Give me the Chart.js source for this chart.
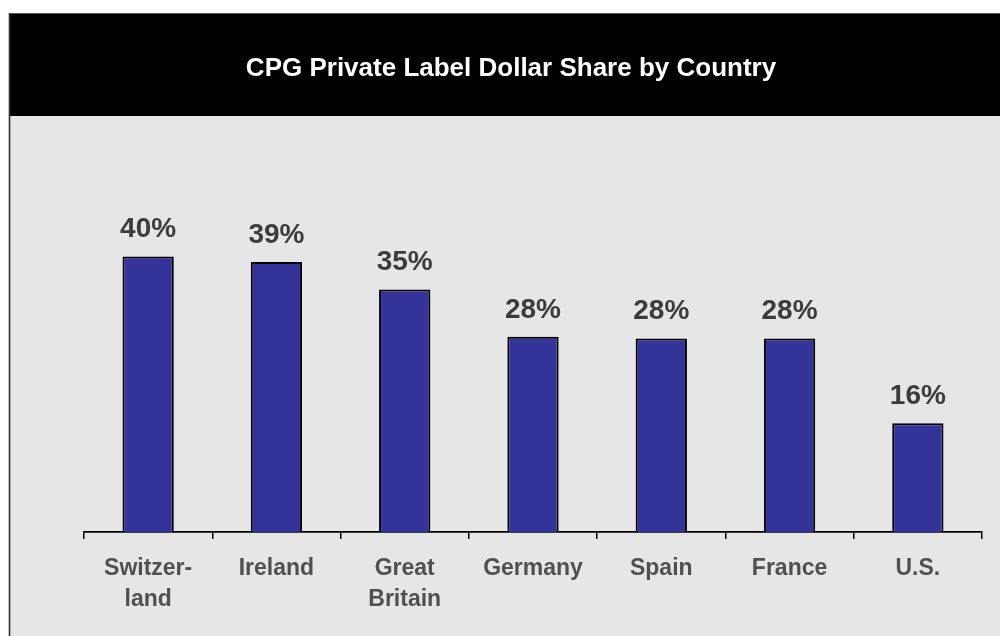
<!DOCTYPE html>
<html>
<head>
<meta charset="utf-8">
<script src="https://cdn.jsdelivr.net/npm/chart.js@4.4.1/dist/chart.umd.min.js"></script>
<style>
  html, body { margin: 0; padding: 0; background: #fff; }
  #wrap { width: 1000px; height: 636px; position: relative; }
</style>
</head>
<body>
<div id="wrap"><canvas id="barchart"></canvas></div>
<script>
const countries = [['Switzer-', 'land'], 'Ireland', ['Great', 'Britain'], 'Germany', 'Spain', 'France', 'U.S.'];
const shares = [40, 39.2, 35.2, 28.35, 28.1, 28.1, 15.8];
const titleText = 'CPG Private Label Dollar Share by Country';

const FONT = "'Liberation Sans', Arial, sans-serif";

// grey panel, black title band and frame lines
const panel = {
  id: 'panel',
  beforeDraw(chart) {
    const c = chart.ctx;
    c.save();
    c.fillStyle = '#ffffff';
    c.fillRect(0, 0, chart.width, chart.height);
    c.fillStyle = '#e6e6e6';
    c.fillRect(9, 13, chart.width - 9, chart.height - 13);
    c.fillStyle = '#000000';
    c.fillRect(9, 13, chart.width - 9, 103);
    c.strokeStyle = '#555';
    c.lineWidth = 1;
    c.beginPath();
    c.moveTo(9, 13.5); c.lineTo(chart.width, 13.5);
    c.stroke();
    c.strokeStyle = '#333';
    c.lineWidth = 1.6;
    c.beginPath();
    c.moveTo(9.5, 13); c.lineTo(9.5, chart.height);
    c.stroke();
    c.restore();
  }
};

// percentage above each bar
const valueLabels = {
  id: 'valueLabels',
  afterDatasetsDraw(chart) {
    const c = chart.ctx;
    const meta = chart.getDatasetMeta(0);
    c.save();
    c.font = 'bold 28px ' + FONT;
    c.fillStyle = '#3c3c3c';
    c.textAlign = 'center';
    c.textBaseline = 'alphabetic';
    meta.data.forEach((bar, i) => {
      c.fillText(Math.round(shares[i]) + '%', bar.x, bar.y - 19);
    });
    c.restore();
  }
};

const ctx = document.getElementById('barchart');

const barchart = new Chart(ctx, {
  type: 'bar',
  data: {
    labels: countries,
    datasets: [{
      data: shares,
      backgroundColor: '#333399',
      borderColor: '#000000',
      borderWidth: 2,
      barPercentage: 0.8,
      categoryPercentage: 0.5
    }]
  },
  options: {
    responsive: true,
    maintainAspectRatio: false,
    animation: false,
    layout: { padding: { left: 40, right: 18, top: 0, bottom: 0 } },
    plugins: {
      legend: { display: false },
      tooltip: { enabled: false },
      title: {
        display: true,
        text: titleText,
        color: '#ffffff',
        font: { family: FONT, size: 26, weight: 'bold', lineHeight: 1.2 },
        padding: { top: 53, bottom: 34.4 }
      }
    },
    scales: {
      x: {
        grid: {
          offset: true,
          drawOnChartArea: false,
          color: '#000',
          tickLength: 7,
          lineWidth: 1.5
        },
        border: { color: '#000', width: 1.8 },
        ticks: {
          color: '#505050',
          padding: 14,
          maxRotation: 0,
          autoSkip: false,
          font: { family: FONT, size: 23, weight: 'bold', lineHeight: 1.35 }
        },
        afterFit(scale) { scale.height = 104; }
      },
      y: {
        min: 0,
        max: 60,
        ticks: { display: false },
        grid: { display: false },
        border: { display: false },
        afterFit(scale) { scale.width = 44; }
      }
    }
  },
  plugins: [panel, valueLabels]
});
</script>
</body>
</html>
